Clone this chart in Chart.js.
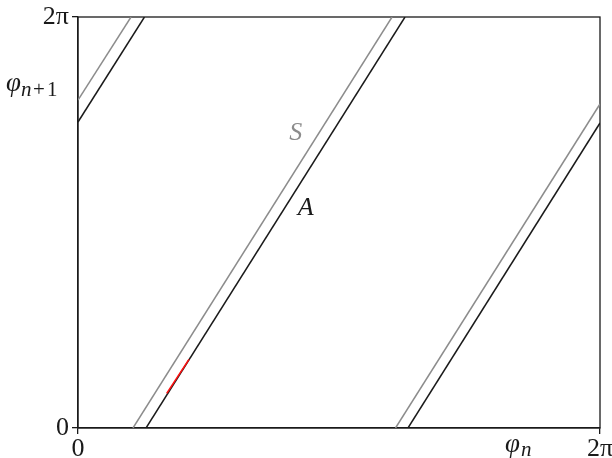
<!DOCTYPE html>
<html>
<head>
<meta charset="utf-8">
<script src="https://cdn.jsdelivr.net/npm/chart.js@4/dist/chart.umd.min.js"></script>
<style>
  html, body { margin: 0; padding: 0; background: #fff; }
  #wrap { width: 612px; height: 458px; }
</style>
</head>
<body>
<div id="wrap"><canvas id="chart"></canvas></div>
<script>
const TWO_PI = 2 * Math.PI;

const tickValues = [0, TWO_PI];
const tickLabels = ['0', '2π'];

// branch end points (phi_n, phi_n+1), in radians
const aPhiN  = [[0, 0.800], [0.819, 3.936], [3.972, TWO_PI]];
const aPhiN1 = [[4.678, TWO_PI], [0, TWO_PI], [0, 4.663]];
const sPhiN  = [[0, 0.638], [0.662, 3.780], [3.822, TWO_PI]];
const sPhiN1 = [[5.014, TWO_PI], [0, TWO_PI], [0, 4.953]];
const redPhiN  = [1.068, 1.336];
const redPhiN1 = [0.530, 1.050];

const SERIF = "'Liberation Serif', 'DejaVu Serif', serif";
const INK = '#1a1a1a';
const GREY = '#8c8c8c';

function toPoints(xs, ys) {
  return xs.map((x, i) => ({ x: x, y: ys[i] }));
}

function lineSet(label, xs, ys, color, width) {
  return {
    label: label,
    data: toPoints(xs, ys),
    showLine: true,
    borderColor: color,
    borderWidth: width,
    pointRadius: 0,
    fill: false
  };
}

const datasets = [lineSet('red', redPhiN, redPhiN1, '#ff1010', 1.6)];
aPhiN.forEach((xs, i) => datasets.push(lineSet('A', xs, aPhiN1[i], INK, 1.5)));
sPhiN.forEach((xs, i) => datasets.push(lineSet('S', xs, sPhiN1[i], GREY, 1.5)));

// frame round the plot plus the math labels
const decor = {
  id: 'decor',
  beforeDatasetsDraw(chart) {
    const { ctx, chartArea: a } = chart;
    ctx.save();
    ctx.strokeStyle = INK;
    ctx.lineWidth = 1.3;
    ctx.strokeRect(a.left, a.top, a.right - a.left, a.bottom - a.top);
    ctx.restore();
  },
  afterDraw(chart) {
    const { ctx, scales } = chart;
    const xs = scales.x, ys = scales.y;
    ctx.save();
    ctx.textBaseline = 'alphabetic';

    ctx.font = 'italic 26px ' + SERIF;
    ctx.textAlign = 'center';
    ctx.fillStyle = GREY;
    ctx.fillText('S', xs.getPixelForValue(2.62), ys.getPixelForValue(4.40));
    ctx.fillStyle = INK;
    ctx.fillText('A', xs.getPixelForValue(2.74), ys.getPixelForValue(3.25));

    // phi_n under the x axis
    ctx.textAlign = 'left';
    ctx.font = 'italic 27px ' + SERIF;
    ctx.fillText('φ', 505, 452);
    ctx.font = 'italic 21px ' + SERIF;
    ctx.fillText('n', 521, 456);

    // phi_n+1 left of the y axis
    ctx.font = 'italic 27px ' + SERIF;
    ctx.fillText('φ', 6, 91);
    ctx.font = 'italic 21px ' + SERIF;
    ctx.fillText('n', 21, 96);
    ctx.font = '21px ' + SERIF;
    ctx.fillText('+', 33, 96);
    ctx.fillText('1', 47, 96);
    ctx.restore();
  }
};

function tickText(value) {
  const i = tickValues.findIndex(v => Math.abs(v - value) < 1e-9);
  return i >= 0 ? tickLabels[i] : '';
}

const axisCommon = {
  type: 'linear',
  min: 0,
  max: TWO_PI,
  afterBuildTicks: s => { s.ticks = tickValues.map(v => ({ value: v })); },
  ticks: {
    callback: tickText,
    autoSkip: false,
    maxRotation: 0,
    color: INK,
    font: { family: SERIF, size: 26 }
  },
  grid: { drawOnChartArea: false, drawTicks: true, tickLength: 6, color: INK, lineWidth: 1.3 },
  border: { color: INK, width: 1.3 }
};

new Chart(document.getElementById('chart'), {
  type: 'scatter',
  data: { datasets: datasets },
  plugins: [decor],
  options: {
    responsive: true,
    maintainAspectRatio: false,
    animation: false,
    layout: { padding: { top: 17, right: 12, left: 0, bottom: 0 } },
    plugins: { legend: { display: false }, tooltip: { enabled: false } },
    scales: {
      x: Object.assign({}, axisCommon, {
        ticks: Object.assign({}, axisCommon.ticks, { padding: 0 }),
        afterFit: s => { s.height = 30; s.paddingLeft = 0; s.paddingRight = 0; }
      }),
      y: Object.assign({}, axisCommon, {
        ticks: Object.assign({}, axisCommon.ticks, { padding: 3 }),
        afterFit: s => { s.width = 78; s.paddingTop = 0; s.paddingBottom = 0; }
      })
    }
  }
});
</script>
</body>
</html>
